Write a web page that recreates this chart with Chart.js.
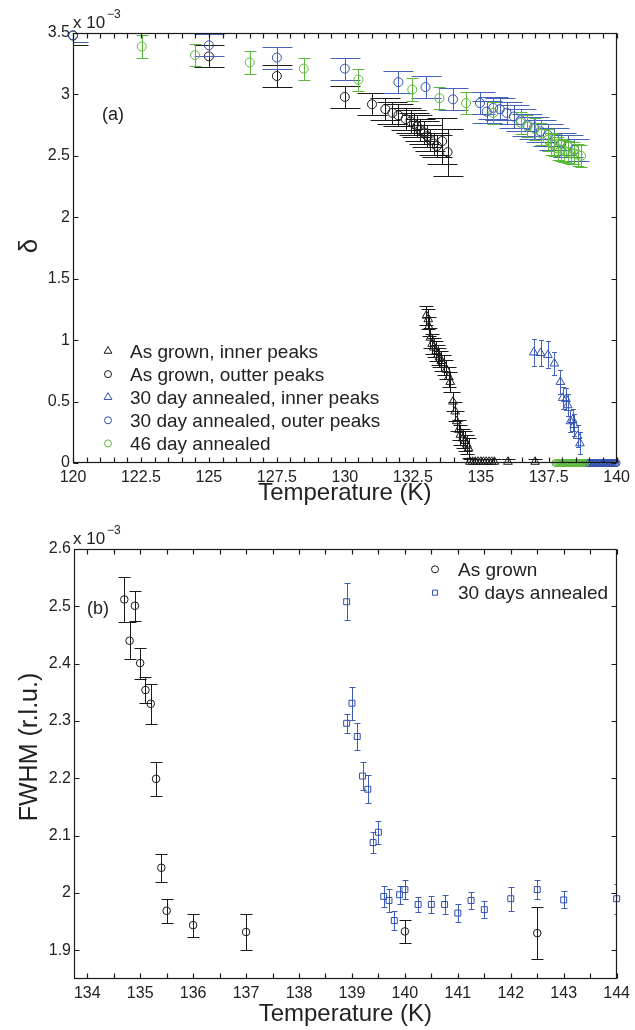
<!DOCTYPE html>
<html><head><meta charset="utf-8">
<script src="https://cdn.jsdelivr.net/npm/chart.js@4.4.0/dist/chart.umd.min.js"></script>
<style>
html,body{margin:0;padding:0;background:#fff;}
#c1{position:absolute;left:0;top:0;}
#c2{position:absolute;left:0;top:515px;}
</style></head><body>
<canvas id="c1" width="635" height="515"></canvas>
<canvas id="c2" width="635" height="515"></canvas>
<script>
// ---------- DATA (panel a: delta in units of 1e-3) ----------
const agInnerT = [133.0,133.07,133.09,133.15,133.21,133.27,133.36,133.42,133.48,133.55,133.64,133.73,133.82,133.88,133.98,134.06,134.12,134.19,134.25,134.34,134.43,134.49,134.55,134.6,134.7,134.8,134.9,135.0,135.1,135.2,135.3,135.4,135.5,136.0,137.0];
const agInnerV = [1.20,1.17,1.11,1.02,0.97,0.94,0.91,0.88,0.86,0.83,0.80,0.76,0.70,0.66,0.50,0.42,0.34,0.27,0.23,0.20,0.18,0.15,0.12,0.01,0.01,0.01,0.01,0.01,0.01,0.01,0.01,0.01,0.01,0.01,0.01];
const agInnerE = [0.08,0.08,0.08,0.08,0.08,0.08,0.08,0.08,0.08,0.08,0.08,0.08,0.08,0.08,0.08,0.08,0.08,0.08,0.08,0.08,0.08,0.08,0.08,0.02,0.02,0.02,0.02,0.02,0.02,0.02,0.02,0.02,0.02,0.02,0.02];

const agOuterT = [120,125,127.5,130,131.0,131.49,131.75,131.97,132.24,132.42,132.54,132.66,132.78,132.91,133.03,133.15,133.27,133.39,133.58,133.78];
const agOuterV = [3.48,3.31,3.15,2.98,2.92,2.88,2.85,2.83,2.80,2.78,2.76,2.74,2.71,2.69,2.66,2.63,2.60,2.58,2.62,2.53];
const agOuterE = [0.08,0.09,0.09,0.09,0.09,0.09,0.09,0.09,0.09,0.09,0.09,0.09,0.09,0.09,0.09,0.09,0.09,0.09,0.19,0.19];

const anInnerT = [136.95,137.20,137.47,137.71,137.93,138.01,138.14,138.20,138.30,138.38,138.44,138.56,138.65];
const anInnerV = [0.90,0.895,0.88,0.81,0.66,0.53,0.52,0.47,0.34,0.35,0.31,0.22,0.16];
const anInnerE = [0.11,0.105,0.11,0.095,0.095,0.09,0.09,0.09,0.09,0.09,0.09,0.09,0.09];
const anInnerZeroT = [138.9,138.95,139.0,139.05,139.1,139.15,139.2,139.25,139.3,139.35,139.4,139.45,139.5,139.55,139.6,139.65,139.7,139.75,139.8,139.85,139.9,139.95,140.0];
const anInnerZeroV = [0,0,0,0,0,0,0,0,0,0,0,0,0,0,0,0,0,0,0,0,0,0,0];

const anOuterT = [120,125,127.5,130,131.97,132.97,133.98,134.97,135.22,135.46,135.70,135.95,136.22,136.47,136.72,136.96,137.20,137.47,137.71,137.96,138.20,138.44];
const anOuterV = [3.48,3.40,3.30,3.21,3.10,3.06,2.96,2.93,2.86,2.89,2.88,2.85,2.82,2.79,2.75,2.73,2.70,2.67,2.64,2.60,2.58,2.55];
const anOuterE = [0.05,0.09,0.09,0.09,0.09,0.09,0.09,0.09,0.09,0.09,0.09,0.09,0.09,0.09,0.09,0.09,0.09,0.09,0.09,0.09,0.09,0.09];

const an46T = [122.53,124.49,126.50,128.49,130.50,132.48,133.48,134.46,135.46,136.47,136.72,136.98,137.23,137.47,137.59,137.71,137.83,137.96,138.08,138.20,138.32,138.44,138.56,138.69];
const an46V = [3.39,3.32,3.26,3.21,3.12,3.04,2.97,2.93,2.85,2.77,2.74,2.72,2.68,2.63,2.60,2.59,2.56,2.55,2.54,2.53,2.52,2.52,2.51,2.50];
const an46E = [0.09,0.09,0.09,0.09,0.09,0.09,0.09,0.09,0.09,0.09,0.09,0.09,0.09,0.09,0.09,0.09,0.09,0.09,0.09,0.09,0.09,0.09,0.09,0.09];
const an46ZeroT = [137.75,137.8,137.85,137.9,137.95,138.0,138.05,138.1,138.15,138.2,138.25,138.3,138.35,138.4,138.45,138.5,138.55,138.6,138.65,138.7,138.75,138.8,138.85];
const an46ZeroV = [0,0,0,0,0,0,0,0,0,0,0,0,0,0,0,0,0,0,0,0,0,0,0];

// ---------- DATA (panel b: FWHM in units of 1e-3 r.l.u.) ----------
const fwAgT = [134.7,134.8,134.9,135.0,135.1,135.2,135.3,135.4,135.5,136.0,137.0,140.0,142.5];
const fwAgV = [2.512,2.440,2.501,2.401,2.354,2.330,2.199,2.044,1.969,1.944,1.932,1.933,1.930];
const fwAgE = [0.039,0.032,0.026,0.027,0.022,0.035,0.029,0.024,0.021,0.020,0.032,0.020,0.045];

const fwAnT = [138.9,138.9,139.0,139.1,139.2,139.3,139.4,139.5,139.6,139.7,139.8,139.9,140.0,140.25,140.5,140.75,141.0,141.25,141.5,142.0,142.5,143.0,144.0];
const fwAnV = [2.508,2.296,2.331,2.273,2.204,2.181,2.088,2.106,1.994,1.987,1.952,1.997,2.006,1.980,1.980,1.980,1.965,1.987,1.971,1.990,2.006,1.988,1.990];
const fwAnE = [0.032,0.017,0.029,0.024,0.024,0.024,0.018,0.020,0.018,0.020,0.017,0.016,0.017,0.013,0.015,0.016,0.016,0.015,0.015,0.021,0.017,0.015,0.026];

// tick settings
const topXTicks = {min:120, max:140, step:0.5, labelEvery:2.5};
const topYTicks = {min:0, max:3.5, step:0.5, labelEvery:0.5};
const botXTicks = {min:133.75, max:144, step:0.5, labelEvery:1};
const botYTicks = {min:1.85, max:2.6, step:0.1, labelEvery:0.1};

// ---------- STYLE ----------
const FONT = "'Liberation Sans', Arial, Helvetica, sans-serif";
Chart.defaults.font.family = FONT;
const BLACK = '#1a1a1a', BLUE = '#2f4fb0', GREEN = '#5cb83a';
const TXT = '#222';

function isMult(v, m){ const r = v / m; return Math.abs(r - Math.round(r)) < 1e-6; }
function fmt(v){ return String(+v.toFixed(3)); }
function pts(T, V){ return T.map((t, i) => ({x: t, y: V[i]})); }
function ds(label, T, V, E, style, color, radius, cap, order, inLegend, errColor){
  return {label, data: pts(T, V), err: E, cap, errColor: errColor || color,
    pointStyle: style, pointRadius: radius, pointHoverRadius: radius,
    borderColor: color, backgroundColor: 'rgba(0,0,0,0)',
    pointBorderColor: color, pointBackgroundColor: 'rgba(0,0,0,0)',
    pointBorderWidth: 1, borderWidth: 1, showLine: false, clip: false, order, inLegend};
}

const errorBars = {
  id: 'errorBars',
  beforeDatasetDraw(chart, args){
    const d = chart.data.datasets[args.index];
    if (!d.err) return;
    const {ctx, chartArea: a} = chart;
    const xs = chart.scales.x, ys = chart.scales.y;
    ctx.save();
    ctx.beginPath(); ctx.rect(a.left, a.top, a.right - a.left, a.bottom - a.top); ctx.clip();
    ctx.strokeStyle = d.errColor; ctx.lineWidth = 1;
    ctx.beginPath();
    d.data.forEach((p, i) => {
      const e = d.err[i]; if (!e) return;
      const px = Math.round(xs.getPixelForValue(p.x)) + 0.5;
      const y1 = Math.round(ys.getPixelForValue(p.y + e)) + 0.5;
      const y2 = Math.round(ys.getPixelForValue(p.y - e)) + 0.5;
      const h = d.cap / 2;
      ctx.moveTo(px, y1); ctx.lineTo(px, y2);
      ctx.moveTo(px - h, y1); ctx.lineTo(px + h, y1);
      ctx.moveTo(px - h, y2); ctx.lineTo(px + h, y2);
    });
    ctx.stroke();
    ctx.restore();
  }
};

const frame = {
  id: 'frame',
  afterDraw(chart, args, o){
    const {ctx, chartArea: a} = chart;
    const xs = chart.scales.x, ys = chart.scales.y;
    ctx.save();
    ctx.strokeStyle = BLACK; ctx.lineWidth = 1.2;
    const L = Math.round(a.left) + 0.5, R = Math.round(a.right) - 0.5, T = Math.round(a.top) + 0.5, B = Math.round(a.bottom) - 0.5;
    ctx.strokeRect(L, T, R - L, B - T);
    ctx.beginPath();
    xs.ticks.forEach(t => {
      if (!isMult(t.value, o.xStep)) return;
      const px = Math.round(xs.getPixelForValue(t.value)) + 0.5;
      ctx.moveTo(px, B); ctx.lineTo(px, B - 5);
      ctx.moveTo(px, T); ctx.lineTo(px, T + 5);
    });
    ys.ticks.forEach(t => {
      if (!isMult(t.value, o.yStep)) return;
      const py = Math.round(ys.getPixelForValue(t.value)) + 0.5;
      ctx.moveTo(L, py); ctx.lineTo(L + 5, py);
      ctx.moveTo(R, py); ctx.lineTo(R - 5, py);
    });
    ctx.stroke();
    ctx.restore();
  }
};

const annot = {
  id: 'annot',
  afterDraw(chart, args, o){
    const ctx = chart.ctx;
    ctx.save();
    ctx.fillStyle = TXT;
    ctx.textBaseline = 'alphabetic';
    ctx.textAlign = 'left';
    // exponent label
    ctx.font = '17px ' + FONT;
    ctx.fillText('x 10', o.expX, o.expY);
    ctx.font = '12px ' + FONT;
    ctx.fillText('\u22123', o.expX + 34, o.expY - 10);
    // panel label
    ctx.font = '18px ' + FONT;
    ctx.fillText(o.panel, o.panelX, o.panelY);
    // y-axis title (rotated)
    ctx.save();
    ctx.translate(o.yTitleX, o.yTitleY);
    ctx.rotate(-Math.PI / 2);
    ctx.textAlign = 'center'; ctx.textBaseline = 'middle';
    ctx.font = o.yTitleSize + 'px ' + FONT;
    ctx.fillText(o.yTitle, 0, 0);
    ctx.restore();
    // legend
    const items = chart.data.datasets.filter(d => d.inLegend).sort((p, q) => p.legendIndex - q.legendIndex);
    items.forEach((d, i) => {
      const y = o.legY + i * o.legDy;
      ctx.strokeStyle = d.borderColor; ctx.fillStyle = 'rgba(0,0,0,0)'; ctx.lineWidth = 1;
      Chart.helpers.drawPoint(ctx, {pointStyle: d.pointStyle, radius: d.legendRadius, borderWidth: 1, rotation: 0}, o.legX, y);
      ctx.fillStyle = TXT;
      ctx.font = o.legFont + 'px ' + FONT;
      ctx.fillText(d.label, o.legTextX, y + 6.5);
    });
    ctx.restore();
  }
};

function xAxis(t, h, titlePad){
  return {type: 'linear', min: t.min, max: t.max,
    grid: {display: false, drawTicks: false}, border: {display: false},
    ticks: {stepSize: t.step, autoSkip: false, maxRotation: 0, minRotation: 0, includeBounds: false, padding: 5,
      color: TXT, font: {size: 16}, callback: v => isMult(v, t.labelEvery) ? fmt(v) : ''},
    title: {display: true, text: 'Temperature (K)', color: TXT, font: {size: 24}, padding: {top: 0, bottom: titlePad}},
    afterFit: s => { s.height = h; }};
}
function yAxis(t, w){
  return {type: 'linear', min: t.min, max: t.max,
    grid: {display: false, drawTicks: false}, border: {display: false},
    ticks: {stepSize: t.step, autoSkip: false, includeBounds: false, padding: 3,
      color: TXT, font: {size: 16}, callback: v => isMult(v, t.labelEvery) ? fmt(v) : ''},
    title: {display: false},
    afterFit: s => { s.width = w; }};
}

// ---------- PANEL (a) ----------
const dsA = [
  ds('As grown, inner peaks', agInnerT, agInnerV, agInnerE, 'triangle', BLACK, 5, 14, 5, true),
  ds('As grown, outter peaks', agOuterT, agOuterV, agOuterE, 'circle', BLACK, 4.5, 30, 4, true),
  ds('30 day annealed, inner peaks', anInnerT, anInnerV, anInnerE, 'triangle', BLUE, 5, 5, 3, true, '#4562bb'),
  ds('30 day annealed, inner peaks', anInnerZeroT, anInnerZeroV, null, 'circle', BLUE, 3.5, 0, 3, false),
  ds('30 day annealed, outer peaks', anOuterT, anOuterV, anOuterE, 'circle', BLUE, 4.5, 30, 2, true, '#4562bb'),
  ds('46 day annealed', an46T, an46V, an46E, 'circle', GREEN, 4.5, 12, 1, true),
  ds('46 day annealed', an46ZeroT, an46ZeroV, null, 'circle', GREEN, 3.5, 0, 1, false)
];
let li = 0;
dsA.forEach(d => { if (d.inLegend) { d.legendIndex = li++; d.legendRadius = d.pointStyle === 'triangle' ? 4.5 : 3.5; } });

new Chart(document.getElementById('c1'), {
  type: 'scatter',
  data: {datasets: dsA},
  options: {
    responsive: false, animation: false, devicePixelRatio: 1,
    layout: {padding: {top: 33, right: 14, left: 0, bottom: 0}},
    scales: {x: xAxis(topXTicks, 52, 7.5), y: yAxis(topYTicks, 73)},
    plugins: {
      legend: {display: false}, tooltip: {enabled: false},
      frame: {xStep: topXTicks.step, yStep: topYTicks.step},
      annot: {expX: 73, expY: 28, panel: '(a)', panelX: 102, panelY: 120,
        yTitle: '\u03B4', yTitleX: 30, yTitleY: 246, yTitleSize: 26,
        legX: 108, legY: 351, legDy: 23.1, legTextX: 130, legFont: 19}
    }
  },
  plugins: [errorBars, frame, annot]
});

// ---------- PANEL (b) ----------
const dsB = [
  ds('As grown', fwAgT, fwAgV, fwAgE, 'circle', BLACK, 3.8, 12, 2, true),
  ds('30 days annealed', fwAnT, fwAnV, fwAnE, 'rect', BLUE, 4.2, 6, 1, true, '#3f5cb8')
];
dsB[0].legendIndex = 0; dsB[0].legendRadius = 3.5;
dsB[1].legendIndex = 1; dsB[1].legendRadius = 3.6;

new Chart(document.getElementById('c2'), {
  type: 'scatter',
  data: {datasets: dsB},
  options: {
    responsive: false, animation: false, devicePixelRatio: 1,
    layout: {padding: {top: 34, right: 15, left: 0, bottom: 0}},
    scales: {x: xAxis(botXTicks, 51, 1.6), y: yAxis(botYTicks, 74)},
    plugins: {
      legend: {display: false}, tooltip: {enabled: false},
      frame: {xStep: botXTicks.step, yStep: botYTicks.step},
      annot: {expX: 73, expY: 29, panel: '(b)', panelX: 87, panelY: 99,
        yTitle: 'FWHM (r.l.u.)', yTitleX: 30, yTitleY: 232, yTitleSize: 25,
        legX: 435, legY: 54.3, legDy: 23.4, legTextX: 458, legFont: 19}
    }
  },
  plugins: [errorBars, frame, annot]
});
</script>
</body></html>
